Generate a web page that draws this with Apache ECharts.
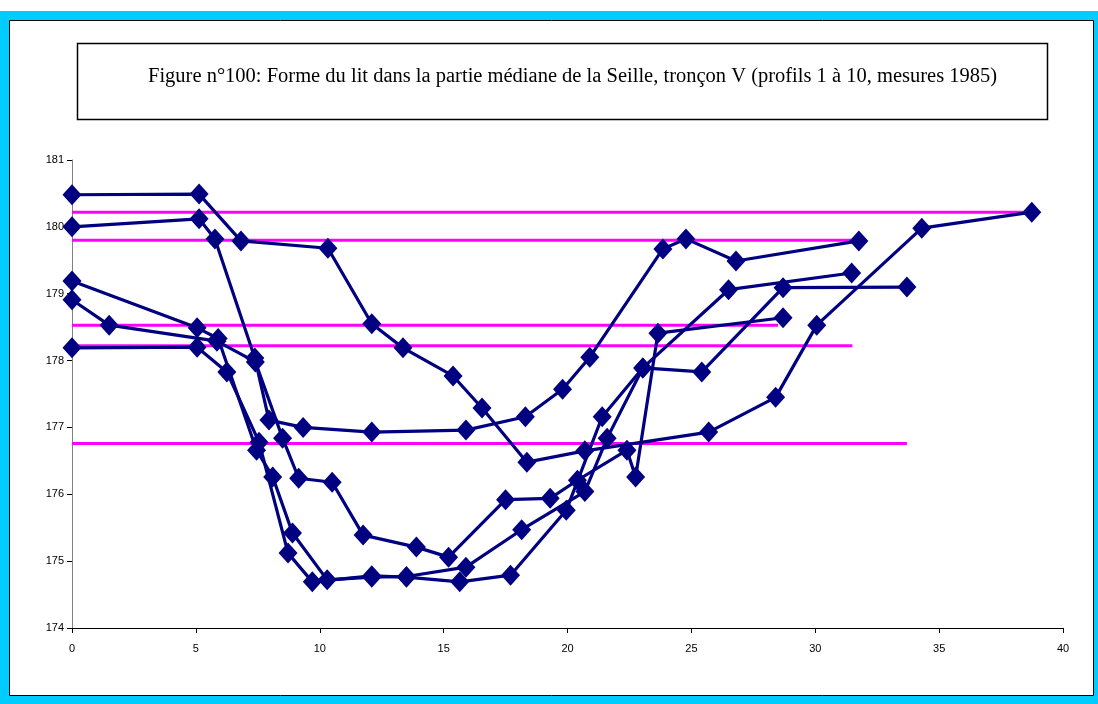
<!DOCTYPE html>
<html>
<head>
<meta charset="utf-8">
<script src="https://cdn.jsdelivr.net/npm/echarts@6/dist/echarts.min.js"></script>
<style>
html,body{margin:0;padding:0;background:#fff;}
#c{width:1098px;height:704px;}
</style>
</head>
<body>
<div id="c"></div>
<script>
const titleText = "Figure n°100: Forme du lit dans la partie médiane de la Seille, tronçon V (profils 1 à 10, mesures 1985)";
const xTicks = {min: 0, max: 40, interval: 5};
const yTicks = {min: 174, max: 181, interval: 1};

const profil1 = [[0,180.48],[5.13,180.49],[6.82,179.79],[10.33,179.68],[12.1,178.55],[13.36,178.19],[15.38,177.77],[16.55,177.29],[18.36,176.48],[20.7,176.65],[25.7,176.93],[28.4,177.45],[30.06,178.53],[34.3,179.98],[38.74,180.22]];
const profil2 = [[0,180.0],[5.13,180.12],[5.77,179.82],[7.38,178.04],[7.95,177.11],[9.33,177.0],[12.1,176.93],[15.9,176.96],[18.3,177.16],[19.8,177.57],[20.9,178.05],[23.85,179.67],[24.78,179.82],[26.8,179.49],[31.76,179.79]];
const profil3 = [[0,178.19],[5.05,178.2],[6.25,177.83],[7.55,176.78],[8.72,175.12],[9.7,174.69],[12.1,174.78],[13.5,174.76],[15.65,174.69],[17.7,174.79],[19.95,175.76],[21.4,177.16],[23.04,177.89],[26.5,179.06],[31.47,179.31]];
const profil4 = [[0,179.19],[5.05,178.49],[5.9,178.33],[7.45,176.66],[8.1,176.26],[8.9,175.42],[10.3,174.72],[12.1,174.76],[13.5,174.77],[15.9,174.91],[18.15,175.47],[20.7,176.04],[21.6,176.84],[23.04,177.89],[25.42,177.83],[28.7,179.09],[33.7,179.1]];
const profil5 = [[0,178.91],[1.5,178.53],[5.85,178.29],[7.4,177.98],[8.5,176.84],[9.15,176.24],[10.5,176.18],[11.75,175.39],[13.9,175.21],[15.2,175.06],[17.5,175.92],[19.3,175.94],[20.4,176.21],[22.4,176.66],[22.75,176.26],[23.65,178.41],[28.7,178.64]];

const niveau1 = [[0,180.22],[38.5,180.22]];
const niveau2 = [[0,179.80],[31.5,179.80]];
const niveau3 = [[0,178.53],[28.5,178.53]];
const niveau4 = [[0,178.22],[31.5,178.22]];
const niveau5 = [[0,176.76],[33.7,176.76]];

const profils = [profil1, profil2, profil3, profil4, profil5];
const niveaux = [niveau1, niveau2, niveau3, niveau4, niveau5];

const chart = echarts.init(document.getElementById('c'));
const series = [];
niveaux.forEach(d => series.push({
  type: 'line', data: d, symbol: 'none', silent: true, z: 2,
  lineStyle: {color: '#FF00FF', width: 3}
}));
profils.forEach(d => series.push({
  type: 'line', data: d, symbol: 'diamond', symbolSize: [19, 21], z: 3,
  itemStyle: {color: '#000080'},
  lineStyle: {color: '#000080', width: 3.2}
}));

chart.setOption({
  animation: false,
  backgroundColor: '#ffffff',
  graphic: [
    {type: 'rect', z: -10, shape: {x: 0, y: 11, width: 1098, height: 693}, style: {fill: '#00CCFF'}},
    {type: 'rect', z: -9, shape: {x: 9.5, y: 20.5, width: 1084, height: 675}, style: {fill: '#ffffff', stroke: '#000', lineWidth: 1}},
    {type: 'rect', z: -8, shape: {x: 77.5, y: 43.5, width: 970, height: 76}, style: {fill: '#ffffff', stroke: '#000', lineWidth: 1.5}}
  ],
  title: {
    text: titleText, left: 143, top: 61,
    textStyle: {fontFamily: 'Liberation Serif', fontSize: 20.5, fontWeight: 'normal', color: '#000'}
  },
  grid: {left: 72, right: 35, top: 160, bottom: 76, containLabel: false},
  xAxis: {
    type: 'value', min: xTicks.min, max: xTicks.max, interval: xTicks.interval,
    axisLine: {show: true, onZero: false, lineStyle: {color: '#000', width: 1}},
    axisTick: {show: true, length: 5, lineStyle: {color: '#000'}},
    splitLine: {show: false},
    axisLabel: {fontFamily: 'Liberation Sans', fontSize: 11, color: '#000', margin: 15}
  },
  yAxis: {
    type: 'value', min: yTicks.min, max: yTicks.max, interval: yTicks.interval,
    axisLine: {show: true, lineStyle: {color: '#808080', width: 1}},
    axisTick: {show: true, length: 5, lineStyle: {color: '#000'}},
    splitLine: {show: false},
    axisLabel: {fontFamily: 'Liberation Sans', fontSize: 11, color: '#000', margin: 8}
  },
  series: series
});
</script>
</body>
</html>
